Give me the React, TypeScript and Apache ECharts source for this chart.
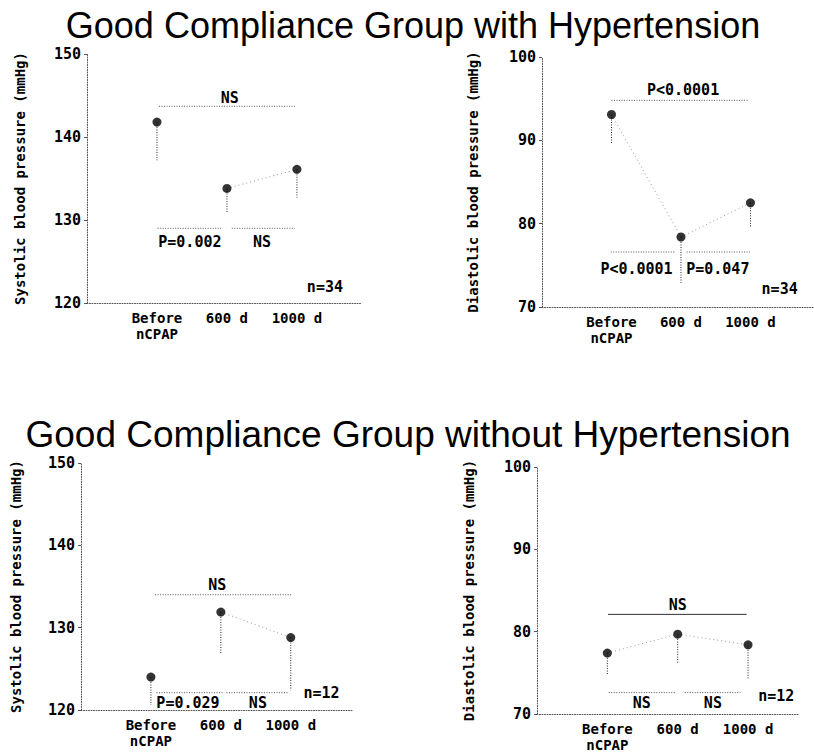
import React, { useEffect, useRef } from "react";
import * as echarts from "echarts";

// ---- data ----
const categories = ["Before\nnCPAP", "600 d", "1000 d"];
const titles = [
  "Good Compliance Group with Hypertension",
  "Good Compliance Group without Hypertension",
];
const sysName = "Systolic blood pressure (mmHg)";
const diaName = "Diastolic blood pressure (mmHg)";

const sysHT = [141.8, 133.8, 136.1];
const sysHTLow = [137.2, 130.8, 132.7];
const diaHT = [93.1, 78.4, 82.5];
const diaHTLow = [89.5, 72.9, 79.6];
const sysNT = [124.0, 131.9, 128.8];
const sysNTLow = [120.6, 126.9, 122.4];
const diaNT = [77.4, 79.7, 78.4];
const diaNTLow = [74.7, 76.2, 74.3];

const sysTicks = [120, 150, 10];
const diaTicks = [70, 100, 10];

// brackets: [x1, x2, y]
const sysHTBrackets = [[1.03, 2.97, 143.7], [1.01, 1.94, 129.0], [2.07, 2.97, 129.0]];
const diaHTBrackets = [[1.0, 2.96, 94.8], [0.99, 1.91, 76.6], [2.08, 2.99, 76.6]];
const sysNTBrackets = [[1.06, 3.01, 134.0], [1.08, 2.03, 122.1], [2.08, 2.96, 122.1]];
const diaNTBrackets = [[1.01, 2.98, 82.1], [1.02, 1.96, 72.6], [2.1, 2.89, 72.6]];

// annotation labels: [x, y, text]
const sysHTNotes: [number, number, string][] = [[2.04, 144.7, "NS"], [1.47, 127.4, "P=0.002"], [2.5, 127.4, "NS"], [3.4, 121.9, "n=34"]];
const diaHTNotes: [number, number, string][] = [[2.03, 96.0, "P<0.0001"], [1.36, 74.6, "P<0.0001"], [2.53, 74.6, "P=0.047"], [3.42, 72.2, "n=34"]];
const sysNTNotes: [number, number, string][] = [[1.95, 135.2, "NS"], [1.53, 120.8, "P=0.029"], [2.53, 120.8, "NS"], [3.44, 122.1, "n=12"]];
const diaNTNotes: [number, number, string][] = [[2.0, 83.2, "NS"], [1.49, 71.3, "NS"], [2.5, 71.3, "NS"], [3.4, 72.2, "n=12"]];

// which means are joined by a line: [fromIndex, toIndex]
const sysHTJoin = [[1, 2]];
const diaHTJoin = [[0, 1], [1, 2]];
const sysNTJoin = [[1, 2]];
const diaNTJoin = [[0, 1], [1, 2]];

// ---- layout ----
const panels = [
  { means: sysHT, low: sysHTLow, ticks: sysTicks, name: sysName, brackets: sysHTBrackets, notes: sysHTNotes, join: sysHTJoin,
    grid: { left: 87, top: 54, width: 275, height: 249 }, xMax: 3.93, nameGap: 60, topSolid: false },
  { means: diaHT, low: diaHTLow, ticks: diaTicks, name: diaName, brackets: diaHTBrackets, notes: diaHTNotes, join: diaHTJoin,
    grid: { left: 542, top: 57, width: 271, height: 250 }, xMax: 3.9, nameGap: 62, topSolid: false },
  { means: sysNT, low: sysNTLow, ticks: sysTicks, name: sysName, brackets: sysNTBrackets, notes: sysNTNotes, join: sysNTJoin,
    grid: { left: 81, top: 463, width: 272, height: 247 }, xMax: 3.89, nameGap: 58, topSolid: false },
  { means: diaNT, low: diaNTLow, ticks: diaTicks, name: diaName, brackets: diaNTBrackets, notes: diaNTNotes, join: diaNTJoin,
    grid: { left: 537, top: 467, width: 261, height: 248 }, xMax: 3.71, nameGap: 61, topSolid: true },
];

const MONO = "'DejaVu Sans Mono', 'Liberation Mono', monospace";

function segSeries(idx: number, segs: number[][], color: string, width: number, dash: number[] | null, z = 2) {
  return {
    type: "custom",
    xAxisIndex: idx,
    yAxisIndex: idx,
    z,
    silent: true,
    data: segs,
    renderItem: (_p: any, api: any) => {
      const a = api.coord([api.value(0), api.value(1)]);
      const b = api.coord([api.value(2), api.value(3)]);
      return {
        type: "line",
        shape: { x1: a[0], y1: a[1], x2: b[0], y2: b[1] },
        style: { stroke: color, lineWidth: width, lineDash: dash || undefined },
      };
    },
  };
}

function buildOption() {
  const grid: any[] = [];
  const xAxis: any[] = [];
  const yAxis: any[] = [];
  const series: any[] = [];
  const axisLine = { show: true, lineStyle: { color: "#555", width: 1, type: [1, 1.5] } };

  panels.forEach((p, i) => {
    grid.push({ ...p.grid, containLabel: false });
    xAxis.push({
      type: "value",
      gridIndex: i,
      min: 0,
      max: p.xMax,
      interval: 1,
      axisLine,
      axisTick: { show: false },
      splitLine: { show: false },
      axisLabel: {
        margin: 7,
        color: "#000",
        fontFamily: MONO,
        fontWeight: "bold",
        fontSize: 14,
        lineHeight: 16,
        showMaxLabel: false,
        formatter: (v: number) => (Number.isInteger(v) && v >= 1 && v <= 3 ? categories[v - 1] : ""),
      },
    });
    yAxis.push({
      type: "value",
      gridIndex: i,
      min: p.ticks[0],
      max: p.ticks[1],
      interval: p.ticks[2],
      axisLine,
      axisTick: { show: true, length: 3, lineStyle: { color: "#555" } },
      splitLine: { show: false },
      axisLabel: { margin: 6, color: "#000", fontFamily: MONO, fontWeight: "bold", fontSize: 15 },
      name: p.name,
      nameLocation: "middle",
      nameGap: p.nameGap,
      nameRotate: 90,
      nameTextStyle: { color: "#000", fontFamily: MONO, fontWeight: "bold", fontSize: 14 },
    });

    // error bars (lower)
    series.push(segSeries(i, p.means.map((m, k) => [k + 1, m, k + 1, p.low[k]]), "#222", 1, [1, 1.5]));
    // connecting lines between means
    series.push(segSeries(i, p.join.map(([a, b]) => [a + 1, p.means[a], b + 1, p.means[b]]), "#999", 1, [1, 3]));
    // brackets
    p.brackets.forEach((br, k) => {
      const solid = p.topSolid && k === 0;
      series.push(segSeries(i, [[br[0], br[2], br[1], br[2]]], solid ? "#333" : "#555", 1, solid ? null : [1, 1.5]));
    });
    // notes
    const notes = p.notes;
    series.push({
      type: "custom",
      xAxisIndex: i,
      yAxisIndex: i,
      silent: true,
      z: 4,
      data: notes.map((n) => [n[0], n[1]]),
      renderItem: (params: any, api: any) => {
        const n = notes[params.dataIndex];
        const c = api.coord([n[0], n[1]]);
        return {
          type: "text",
          x: c[0],
          y: c[1],
          style: {
            text: n[2],
            fill: "#000",
            font: `bold 15px ${MONO}`,
            textAlign: "center",
            textVerticalAlign: "middle",
          },
        };
      },
    });
    // means
    series.push({
      type: "scatter",
      xAxisIndex: i,
      yAxisIndex: i,
      symbol: "circle",
      symbolSize: 9,
      z: 5,
      itemStyle: { color: "#000" },
      data: p.means.map((m, k) => [k + 1, m]),
    });
  });

  return {
    animation: false,
    backgroundColor: "#fff",
    grid,
    xAxis,
    yAxis,
    series,
    graphic: [
      {
        type: "text",
        x: 413,
        y: 25,
        style: { text: titles[0], font: "36px 'Liberation Sans', Arial, sans-serif", fill: "#000", textAlign: "center", textVerticalAlign: "middle" },
      },
      {
        type: "text",
        x: 408,
        y: 434,
        style: { text: titles[1], font: "37px 'Liberation Sans', Arial, sans-serif", fill: "#000", textAlign: "center", textVerticalAlign: "middle" },
      },
    ],
  };
}

export default function App() {
  const ref = useRef<HTMLDivElement>(null);
  useEffect(() => {
    document.body.style.margin = "0";
    if (!ref.current) return;
    const chart = echarts.init(ref.current, undefined, { renderer: "svg" });
    chart.setOption(buildOption() as any);
    return () => chart.dispose();
  }, []);
  return <div ref={ref} style={{ width: 814, height: 753 }} />;
}
